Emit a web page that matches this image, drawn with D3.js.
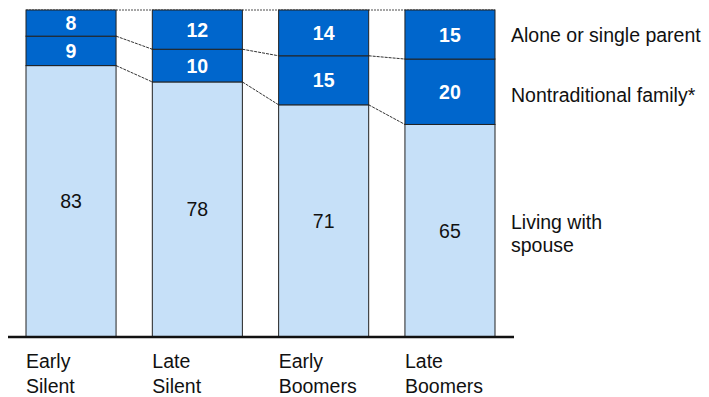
<!DOCTYPE html>
<html>
<head>
<meta charset="utf-8">
<script src="https://cdn.jsdelivr.net/npm/d3@7"></script>
<style>
html,body{margin:0;padding:0;background:#fff;}
svg{display:block;font-family:"Liberation Sans",Arial,sans-serif;}
</style>
</head>
<body>
<svg id="chart" width="709" height="397"></svg>
<script>
const categories = [["Early","Silent"],["Late","Silent"],["Early","Boomers"],["Late","Boomers"]];
const spouse = [83, 78, 71, 65];
const nontraditional = [9, 10, 15, 20];
const alone = [8, 12, 14, 15];
const seriesNames = [["Living with","spouse"],["Nontraditional family*"],["Alone or single parent"]];

const svg = d3.select("#chart");
const keys = categories.map(c => c.join(" "));
const x = d3.scaleBand().domain(keys).range([26, 495]).paddingInner(0.287).paddingOuter(0);
const y = d3.scaleLinear().domain([0, 100]).range([337, 10]);

const rows = keys.map((k, i) => ({key: k, s0: spouse[i], s1: nontraditional[i], s2: alone[i]}));
const stack = d3.stack().keys(["s0","s1","s2"])(rows);
const fills = ["#C6E0F8", "#0066CC", "#0066CC"];
const textFill = ["#111", "#fff", "#fff"];
const weights = ["normal", "bold", "bold"];
const legendShift = [3, 3, 0];
const fs = 19.5;

// top dashed line across gaps
svg.append("line").attr("x1", x(keys[0])).attr("x2", x(keys[3]) + x.bandwidth())
  .attr("y1", y(100)).attr("y2", y(100))
  .attr("stroke", "#888").attr("stroke-width", 1.5).attr("stroke-dasharray", "2,1");

// connectors
[0, 1].forEach(li => {
  for (let i = 0; i < keys.length - 1; i++) {
    svg.append("line")
      .attr("x1", x(keys[i]) + x.bandwidth()).attr("y1", y(stack[li][i][1]))
      .attr("x2", x(keys[i+1])).attr("y2", y(stack[li][i+1][1]))
      .attr("stroke", "#333").attr("stroke-width", 1).attr("stroke-dasharray", "3,1");
  }
});

stack.forEach((layer, li) => {
  const g = svg.append("g");
  g.selectAll("rect").data(layer).join("rect")
    .attr("x", d => x(d.data.key))
    .attr("y", d => y(d[1]))
    .attr("width", x.bandwidth())
    .attr("height", d => y(d[0]) - y(d[1]))
    .attr("fill", fills[li])
    .attr("stroke", "#222").attr("stroke-width", 1);
  g.selectAll("text").data(layer).join("text")
    .attr("x", d => x(d.data.key) + x.bandwidth() / 2)
    .attr("y", d => (y(d[0]) + y(d[1])) / 2)
    .attr("dy", "0.36em")
    .attr("text-anchor", "middle")
    .attr("font-size", fs)
    .attr("font-weight", weights[li])
    .attr("fill", textFill[li])
    .text(d => d[1] - d[0]);
});

// baseline
svg.append("line").attr("x1", 8).attr("x2", 514).attr("y1", y(0)).attr("y2", y(0))
  .attr("stroke", "#111").attr("stroke-width", 2.5);

// category labels
categories.forEach((c, i) => {
  const t = svg.append("text").attr("x", x(keys[i])).attr("y", 368)
    .attr("font-size", fs).attr("fill", "#111");
  c.forEach((line, j) => t.append("tspan").attr("x", x(keys[i])).attr("dy", j ? 25 : 0).text(line));
});

// legend labels at last bar segment centers
const last = keys.length - 1;
stack.forEach((layer, li) => {
  const d = layer[last];
  const cy = (y(d[0]) + y(d[1])) / 2 + legendShift[li];
  const lines = seriesNames[li];
  const lh = 23;
  const t = svg.append("text").attr("x", 511)
    .attr("y", cy - (lines.length - 1) * lh / 2)
    .attr("font-size", fs).attr("fill", "#111");
  lines.forEach((line, j) => t.append("tspan").attr("x", 511).attr("dy", j ? lh : "0.36em").text(line));
});
</script>
</body>
</html>
